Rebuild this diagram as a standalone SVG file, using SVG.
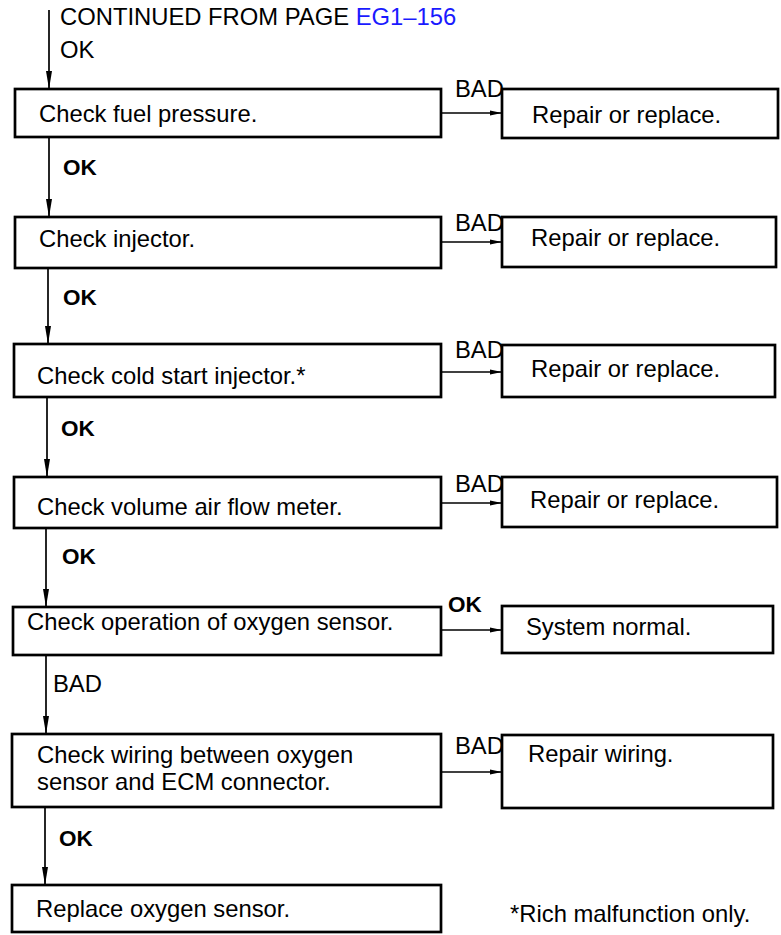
<svg xmlns="http://www.w3.org/2000/svg" width="781" height="935" viewBox="0 0 781 935">
<defs>
<style>
.box{fill:#fff;stroke:#000;stroke-width:2.7}
.t{font-family:"Liberation Sans",Arial,sans-serif;font-size:23.8px;fill:#000}
.b{font-family:"Liberation Sans",Arial,sans-serif;font-size:22.5px;font-weight:bold;fill:#000}
.c{fill:none;stroke:#000;stroke-width:1.7}
</style>
<marker id="av" markerUnits="userSpaceOnUse" viewBox="0 0 18 8" refX="18" refY="4" markerWidth="18" markerHeight="8" orient="auto">
<path d="M0,1 L18,4 L0,7 Z" fill="#000"/>
</marker>
<marker id="ah" markerUnits="userSpaceOnUse" viewBox="0 0 12 6" refX="12" refY="3" markerWidth="12" markerHeight="6" orient="auto">
<path d="M0,0.5 L12,3 L0,5.5 Z" fill="#000"/>
</marker>
</defs>
<rect width="781" height="935" fill="#fff"/>
<g id="header">
<text class="t" x="60" y="25">CONTINUED FROM PAGE <tspan fill="#1a1aff">EG1–156</tspan></text>
<text class="t" x="60" y="58">OK</text>
</g>
<g id="connectors">
<line class="c" x1="49" y1="10" x2="49" y2="89" marker-end="url(#av)"/>
<line class="c" x1="49" y1="137" x2="49" y2="217" marker-end="url(#av)"/>
<line class="c" x1="48" y1="268" x2="48" y2="344" marker-end="url(#av)"/>
<line class="c" x1="47" y1="397" x2="47" y2="477" marker-end="url(#av)"/>
<line class="c" x1="46" y1="528" x2="46" y2="607" marker-end="url(#av)"/>
<line class="c" x1="46" y1="655" x2="46" y2="734" marker-end="url(#av)"/>
<line class="c" x1="45" y1="807" x2="45" y2="885" marker-end="url(#av)"/>
<line class="c" x1="441" y1="113" x2="502" y2="113" marker-end="url(#ah)"/>
<line class="c" x1="441" y1="242" x2="502" y2="242" marker-end="url(#ah)"/>
<line class="c" x1="441" y1="372" x2="502" y2="372" marker-end="url(#ah)"/>
<line class="c" x1="441" y1="503" x2="502" y2="503" marker-end="url(#ah)"/>
<line class="c" x1="441" y1="630" x2="502" y2="630" marker-end="url(#ah)"/>
<line class="c" x1="441" y1="772" x2="502" y2="772" marker-end="url(#ah)"/>
<text class="b" x="63" y="175">OK</text>
<text class="b" x="63" y="305">OK</text>
<text class="b" x="61" y="436">OK</text>
<text class="b" x="62" y="564">OK</text>
<text class="t" x="53" y="692">BAD</text>
<text class="b" x="59" y="846">OK</text>
<text class="t" x="455" y="97">BAD</text>
<text class="t" x="455" y="231">BAD</text>
<text class="t" x="455" y="358">BAD</text>
<text class="t" x="455" y="492">BAD</text>
<text class="b" x="448" y="612">OK</text>
<text class="t" x="455" y="754">BAD</text>
</g>
<g id="n1"><rect class="box" x="15" y="89" width="426" height="48"/><text class="t" x="39" y="122">Check fuel pressure.</text></g>
<g id="n2"><rect class="box" x="15" y="217" width="426" height="51"/><text class="t" x="39" y="247">Check injector.</text></g>
<g id="n3"><rect class="box" x="14" y="344" width="427" height="53"/><text class="t" x="37" y="384">Check cold start injector.*</text></g>
<g id="n4"><rect class="box" x="14" y="477" width="427" height="51"/><text class="t" x="37" y="515">Check volume air flow meter.</text></g>
<g id="n5"><rect class="box" x="13" y="607" width="428" height="48"/><text class="t" x="27" y="630">Check operation of oxygen sensor.</text></g>
<g id="n6"><rect class="box" x="12" y="734" width="429" height="73"/><text class="t" x="37" y="763">Check wiring between oxygen</text><text class="t" x="37" y="790">sensor and ECM connector.</text></g>
<g id="n7"><rect class="box" x="12" y="885" width="429" height="47"/><text class="t" x="36" y="917">Replace oxygen sensor.</text></g>
<g id="r1"><rect class="box" x="502" y="89" width="276" height="49"/><text class="t" x="532" y="123">Repair or replace.</text></g>
<g id="r2"><rect class="box" x="502" y="217" width="274" height="50"/><text class="t" x="531" y="246">Repair or replace.</text></g>
<g id="r3"><rect class="box" x="502" y="345" width="273" height="52"/><text class="t" x="531" y="377">Repair or replace.</text></g>
<g id="r4"><rect class="box" x="502" y="477" width="275" height="50"/><text class="t" x="530" y="508">Repair or replace.</text></g>
<g id="r5"><rect class="box" x="502" y="606" width="271" height="47"/><text class="t" x="526" y="635">System normal.</text></g>
<g id="r6"><rect class="box" x="502" y="735" width="271" height="73"/><text class="t" x="528" y="762">Repair wiring.</text></g>
<g id="note"><text class="t" x="510" y="922">*Rich malfunction only.</text></g>
</svg>
